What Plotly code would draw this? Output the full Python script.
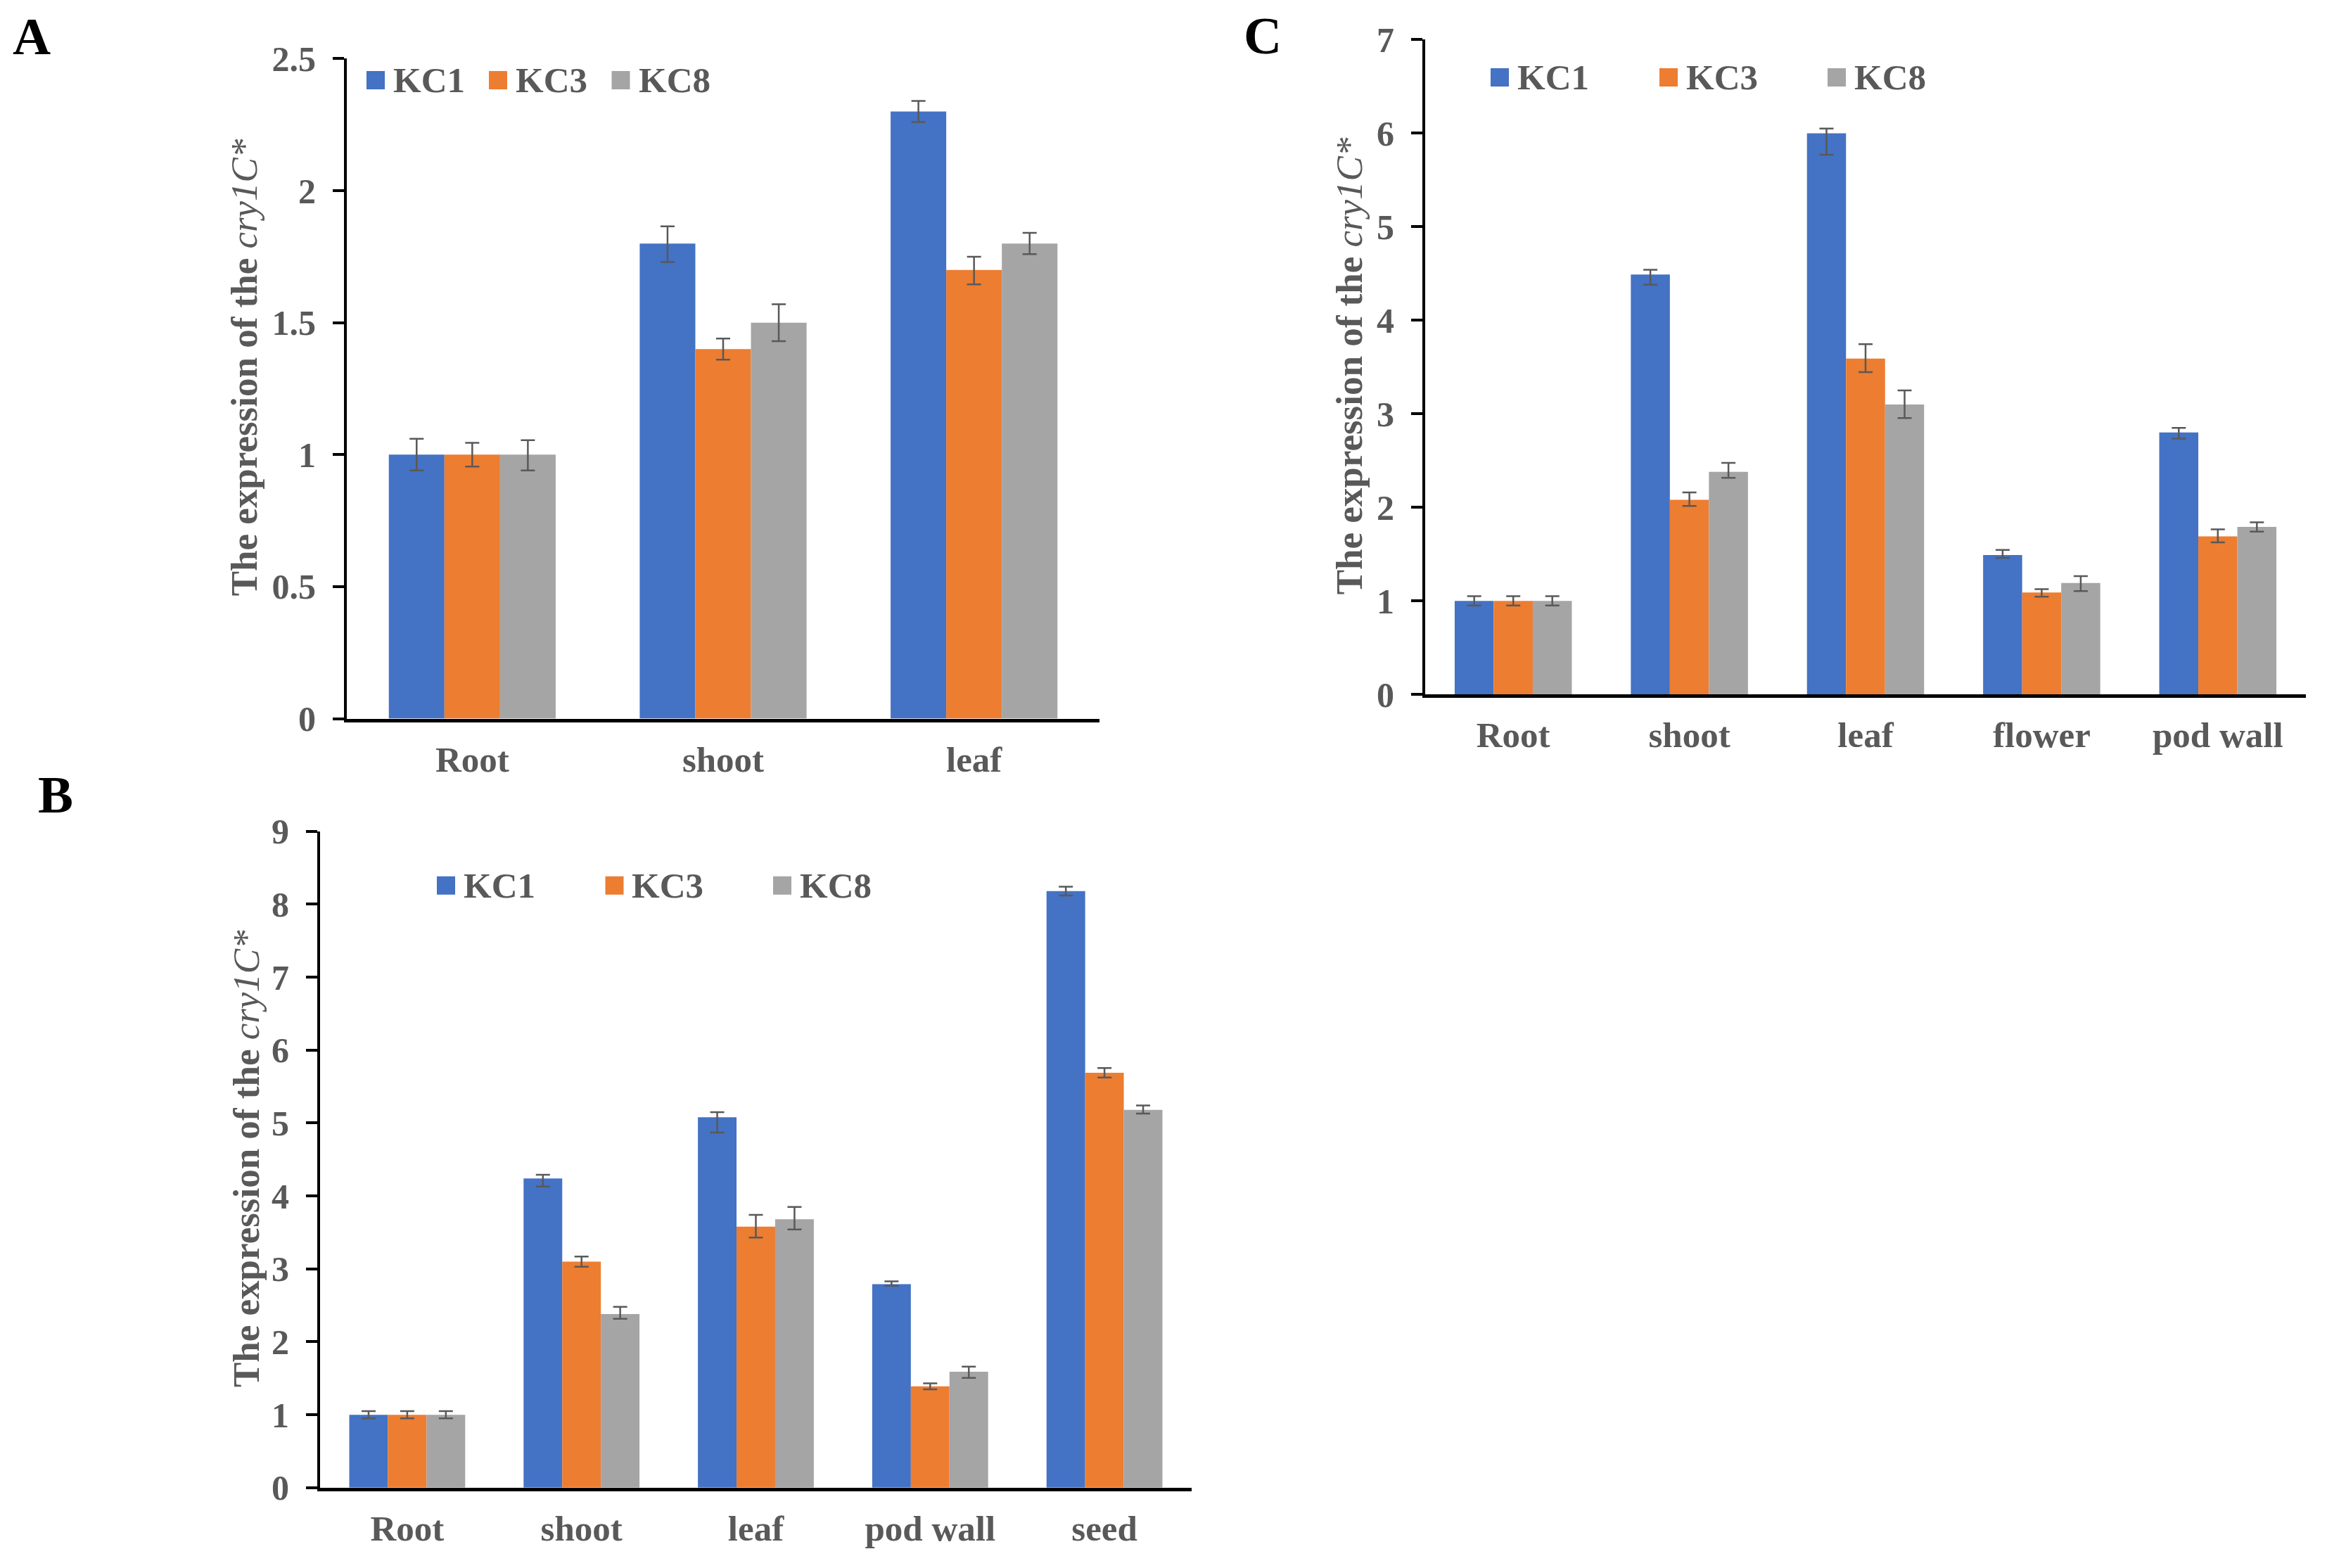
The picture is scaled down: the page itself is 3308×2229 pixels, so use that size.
import plotly.graph_objects as go

# ---------------- data ----------------
series_names = ["KC1", "KC3", "KC8"]
series_colors = ["#4472C4", "#ED7D31", "#A5A5A5"]

# Panel A
a_categories = ["Root", "shoot", "leaf"]
a_kc1 = [1.0, 1.8, 2.3]
a_kc3 = [1.0, 1.4, 1.7]
a_kc8 = [1.0, 1.5, 1.8]
a_kc1_plus = [0.06, 0.065, 0.04]
a_kc1_minus = [0.06, 0.07, 0.04]
a_kc3_plus = [0.045, 0.04, 0.05]
a_kc3_minus = [0.045, 0.04, 0.055]
a_kc8_plus = [0.055, 0.07, 0.04]
a_kc8_minus = [0.06, 0.07, 0.04]
a_ticks = [0, 0.5, 1, 1.5, 2, 2.5]

# Panel B
b_categories = ["Root", "shoot", "leaf", "pod wall", "seed"]
b_kc1 = [1.0, 4.24, 5.08, 2.79, 8.18]
b_kc3 = [1.0, 3.1, 3.58, 1.39, 5.69]
b_kc8 = [1.0, 2.38, 3.68, 1.59, 5.18]
b_kc1_plus = [0.05, 0.05, 0.07, 0.04, 0.06]
b_kc1_minus = [0.05, 0.11, 0.21, 0.02, 0.06]
b_kc3_plus = [0.05, 0.07, 0.16, 0.04, 0.065]
b_kc3_minus = [0.05, 0.07, 0.15, 0.04, 0.065]
b_kc8_plus = [0.05, 0.1, 0.17, 0.07, 0.06]
b_kc8_minus = [0.05, 0.065, 0.14, 0.085, 0.05]
b_ticks = [0, 1, 2, 3, 4, 5, 6, 7, 8, 9]

# Panel C
c_categories = ["Root", "shoot", "leaf", "flower", "pod wall"]
c_kc1 = [1.0, 4.49, 6.0, 1.49, 2.8]
c_kc3 = [1.0, 2.08, 3.59, 1.09, 1.69]
c_kc8 = [1.0, 2.38, 3.1, 1.19, 1.79]
c_kc1_plus = [0.05, 0.05, 0.05, 0.055, 0.05]
c_kc1_minus = [0.05, 0.11, 0.23, 0.03, 0.065]
c_kc3_plus = [0.05, 0.08, 0.155, 0.035, 0.075]
c_kc3_minus = [0.05, 0.065, 0.145, 0.045, 0.065]
c_kc8_plus = [0.05, 0.095, 0.15, 0.075, 0.05]
c_kc8_minus = [0.05, 0.065, 0.145, 0.085, 0.05]
c_ticks = [0, 1, 2, 3, 4, 5, 6, 7]

panel_letters = ["A", "B", "C"]
y_title = 'The expression of the <span style="font-weight:normal"><i>cry1C*</i></span>'

# ---------------- figure ----------------
# compensation for how the page is placed/captured
OX, OY, SY = 8, 35, 2289 / 2229
W, H = 3292, 2232
FONT = "Liberation Serif, Times New Roman, serif"
GREY = "#595959"


def px(x):
    return (x - OX) / W


def py(y):
    return 1 - (y * SY - OY) / H


fig = go.Figure()

panels = [
    dict(ax="", cats=a_categories,
         vals=[a_kc1, a_kc3, a_kc8],
         plus=[a_kc1_plus, a_kc3_plus, a_kc8_plus],
         minus=[a_kc1_minus, a_kc3_minus, a_kc8_minus],
         ticks=a_ticks,
         xdom=[493, 1563], ydom=[81.5, 1019]),
    dict(ax="2", cats=b_categories,
         vals=[b_kc1, b_kc3, b_kc8],
         plus=[b_kc1_plus, b_kc3_plus, b_kc8_plus],
         minus=[b_kc1_minus, b_kc3_minus, b_kc8_minus],
         ticks=b_ticks,
         xdom=[455, 1694], ydom=[1179, 2111.5]),
    dict(ax="3", cats=c_categories,
         vals=[c_kc1, c_kc3, c_kc8],
         plus=[c_kc1_plus, c_kc3_plus, c_kc8_plus],
         minus=[c_kc1_minus, c_kc3_minus, c_kc8_minus],
         ticks=c_ticks,
         xdom=[2026, 3278], ydom=[54.5, 984.5]),
]

for p in panels:
    for name, color, vals, plus, minus in zip(series_names, series_colors,
                                              p["vals"], p["plus"], p["minus"]):
        fig.add_trace(go.Bar(
            x=p["cats"], y=vals, name=name, marker_color=color,
            marker_line_width=0, showlegend=False,
            xaxis="x" + p["ax"], yaxis="y" + p["ax"],
            error_y=dict(type="data", symmetric=False, array=plus, arrayminus=minus,
                         color=GREY, thickness=2.5, width=10),
        ))

layout = dict(
    width=W, height=H, autosize=False,
    margin=dict(l=0, r=0, t=0, b=0, pad=0),
    paper_bgcolor="white", plot_bgcolor="white",
    barmode="group", bargap=0.335, bargroupgap=0,
    showlegend=False,
    font=dict(family=FONT, color=GREY, size=50),
)

for p in panels:
    xa = "xaxis" + p["ax"]
    ya = "yaxis" + p["ax"]
    layout[xa] = dict(
        domain=[px(p["xdom"][0]), px(p["xdom"][1])],
        anchor="y" + p["ax"], type="category",
        showline=True, linecolor="black", linewidth=5,
        ticks="", showgrid=False, zeroline=False,
        tickfont=dict(family=FONT, size=51, color=GREY, weight="bold"),
        ticklabelstandoff=9, fixedrange=True,
    )
    layout[ya] = dict(
        domain=[py(p["ydom"][1]), py(p["ydom"][0])],
        anchor="x" + p["ax"], range=[0, p["ticks"][-1]],
        tickvals=p["ticks"], ticktext=[("%g" % t) for t in p["ticks"]],
        showline=True, linecolor="black", linewidth=4,
        ticks="outside", ticklen=16, tickwidth=4, tickcolor="black",
        showgrid=False, zeroline=False,
        tickfont=dict(family=FONT, size=50, color=GREY, weight="bold"),
        ticklabelstandoff=14, fixedrange=True,
    )

fig.update_layout(**layout)

shapes = []
annotations = []

# legends (square swatches + labels)
legend_specs = [
    dict(xs=[521, 695, 869.5], yc=112),     # A
    dict(xs=[621, 860.5, 1099], yc=1256),   # B
    dict(xs=[2119, 2359, 2598], yc=108),    # C
]
sq = 26
for spec in legend_specs:
    for name, color, x0 in zip(series_names, series_colors, spec["xs"]):
        shapes.append(dict(type="rect", xref="paper", yref="paper",
                           x0=px(x0), x1=px(x0 + sq),
                           y0=py(spec["yc"] + sq / 2), y1=py(spec["yc"] - sq / 2),
                           fillcolor=color, line=dict(width=0)))
        annotations.append(dict(text=name, xref="paper", yref="paper",
                                x=px(x0 + sq + 10), y=py(spec["yc"]),
                                xanchor="left", yanchor="middle", showarrow=False,
                                font=dict(family=FONT, size=51, color=GREY, weight="bold")))

# y-axis titles
for xc, yc in [(347, 520), (350, 1644), (1918, 518)]:
    annotations.append(dict(text=y_title, xref="paper", yref="paper",
                            x=px(xc), y=py(yc), textangle=-90,
                            xanchor="center", yanchor="middle", showarrow=False,
                            font=dict(family=FONT, size=53, color=GREY, weight="bold")))

# panel letters
for letter, (xc, yc) in zip(panel_letters, [(44.5, 50), (78.5, 1127), (1795, 49)]):
    annotations.append(dict(text=letter, xref="paper", yref="paper",
                            x=px(xc), y=py(yc), xanchor="center", yanchor="middle",
                            showarrow=False,
                            font=dict(family=FONT, size=75, color="black", weight="bold")))

fig.update_layout(shapes=shapes, annotations=annotations)

fig.write_html("out.html")
